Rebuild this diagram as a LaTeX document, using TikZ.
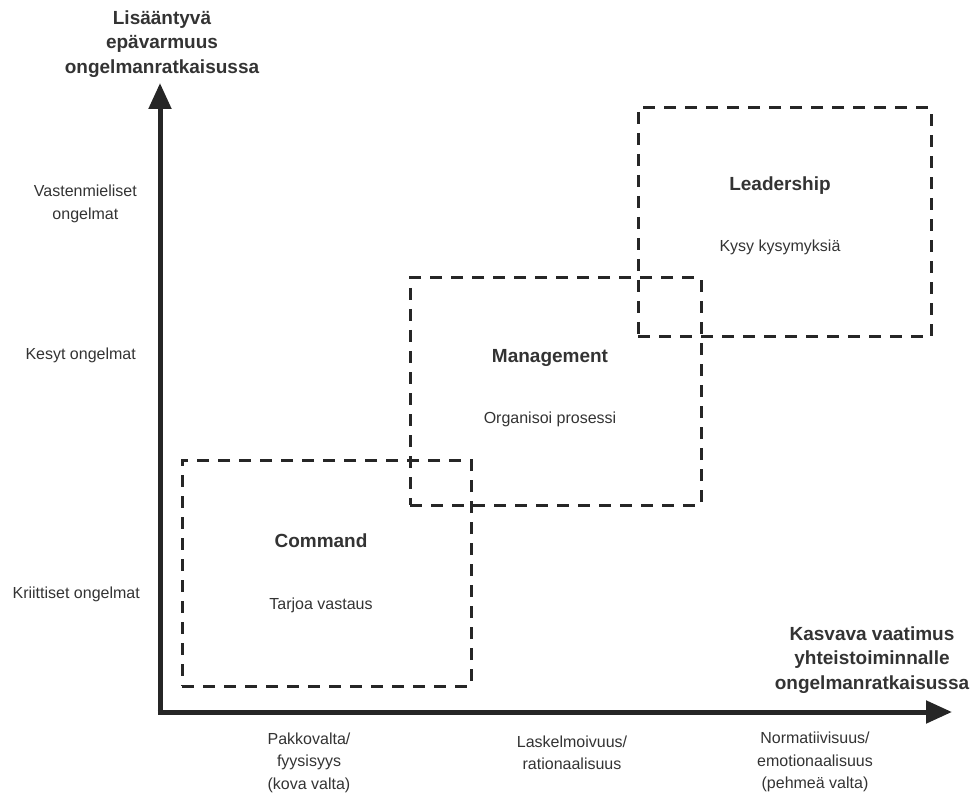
\documentclass[tikz,border=0pt]{standalone}
\usepackage{fontspec}
\setmainfont{Liberation Sans}
\usetikzlibrary{arrows.meta}
\definecolor{txt}{HTML}{333333}
\definecolor{axiscol}{HTML}{262626}
\begin{document}
\begin{tikzpicture}[x=1pt,y=-1pt,
  zonebox/.style={draw=axiscol, line width=3pt, dash pattern=on 12pt off 9pt, inner sep=0pt},
  lbl/.style={text=txt, font=\fontsize{16}{22.5}\selectfont, inner sep=0pt},
  ttl/.style={text=txt, font=\fontsize{19}{24.5}\selectfont\bfseries, align=center, inner sep=0pt},
  axisline/.style={draw=axiscol, line width=5pt, -{Triangle[length=26pt,width=22pt]}}]
\useasboundingbox (0,0) rectangle (980,794);
% axes
\coordinate (origin) at (160,712);
\coordinate (ybase) at (160,714.5);
\coordinate (xbase) at (157.5,712);
\coordinate (ytip) at (160,83);
\coordinate (xtip) at (952,712);
\draw[axisline] (ybase) -- (ytip);
\draw[axisline] (xbase) -- (xtip);
% zones
\node[zonebox, minimum width=289pt, minimum height=226pt] (cmdbox) at (326.5,573) {};
\node[zonebox, minimum width=291pt, minimum height=227pt] (mgmtbox) at (555.5,391.5) {};
\node[zonebox, minimum width=293pt, minimum height=229pt] (leadbox) at (784.5,222.5) {};
% zone texts
\node[ttl] (cmd) at (321,541) {Command};
\node[lbl] (cmdsub) at (321,605) {Tarjoa vastaus};
\node[ttl] (mgmt) at (550,358) {Management};
\node[lbl] (mgmtsub) at (550,419) {Organisoi prosessi};
\node[ttl] (lead) at (780,186) {Leadership};
\node[lbl] (leadsub) at (780,247) {Kysy kysymyksiä};
% axis titles
\node[ttl] (ytitle) at (162,44) {Lisääntyvä\\epävarmuus\\ongelmanratkaisussa};
\node[ttl] (xtitle) at (872,660) {Kasvava vaatimus\\yhteistoiminnalle\\ongelmanratkaisussa};
% y labels
\node[lbl, align=center, anchor=east] (ylab3) at (137,204) {Vastenmieliset\\ongelmat};
\node[lbl, anchor=east] (ylab2) at (136,355) {Kesyt ongelmat};
\node[lbl, anchor=east] (ylab1) at (140,594) {Kriittiset ongelmat};
% x labels
\node[lbl, align=center] (xlab1) at (309,762.5) {Pakkovalta/\\fyysisyys\\(kova valta)};
\node[lbl, align=center] (xlab2) at (572,753) {Laskelmoivuus/\\rationaalisuus};
\node[lbl, align=center] (xlab3) at (815,762) {Normatiivisuus/\\emotionaalisuus\\(pehmeä valta)};
\end{tikzpicture}
\end{document}
